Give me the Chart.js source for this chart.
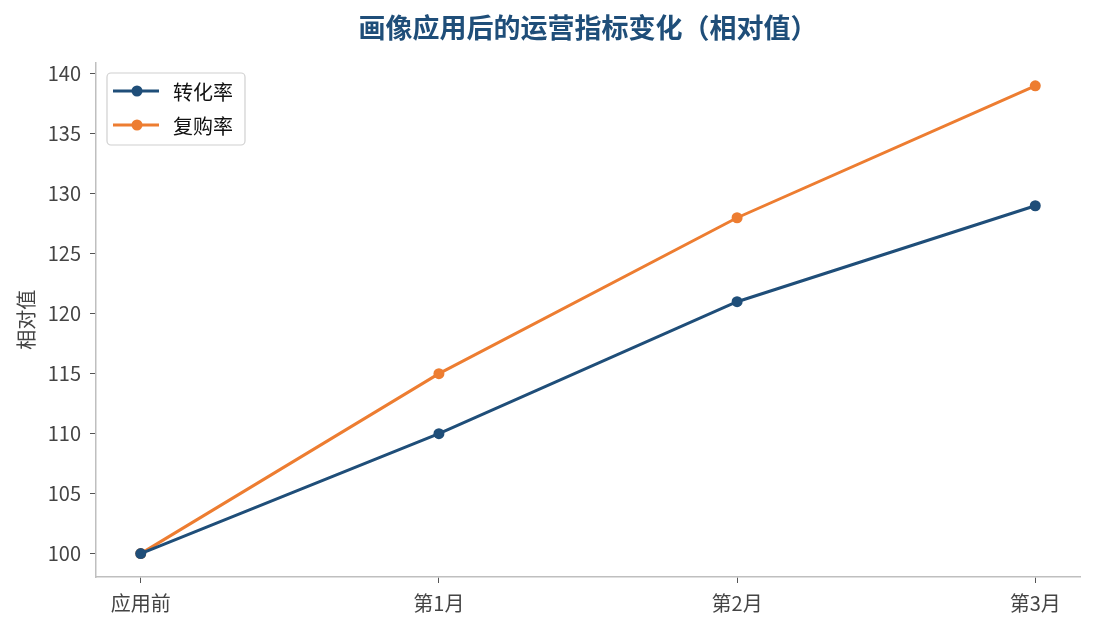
<!DOCTYPE html>
<html>
<head>
<meta charset="utf-8">
<script src="https://cdn.jsdelivr.net/npm/chart.js@4"></script>
<style>
  html, body { margin: 0; padding: 0; background: #fff; }
  #wrap { width: 1095px; height: 630px; }
</style>
</head>
<body>
<div id="wrap"><canvas id="chart" width="1095" height="630"></canvas></div>
<script>
const categories = ['应用前', '第1月', '第2月', '第3月'];
const conversion = [100, 110, 121, 129];
const repurchase = [100, 115, 128, 139];
const yTicks = [100, 105, 110, 115, 120, 125, 130, 135, 140];

const FONT = "'Noto Sans CJK SC', 'Noto Sans', sans-serif";
const BLUE = '#1f4e79';
const ORANGE = '#ed7d31';

const toPoints = arr => arr.map((v, i) => ({ x: i, y: v }));

// legend box drawn inside the plot area, top-left
const innerLegend = {
  id: 'innerLegend',
  afterDraw(chart) {
    const ctx = chart.ctx;
    const x0 = 107, y0 = 73, w = 138, h = 72;
    ctx.save();
    ctx.fillStyle = 'rgba(255,255,255,0.85)';
    ctx.strokeStyle = '#d0d0d0';
    ctx.lineWidth = 1.2;
    ctx.beginPath();
    ctx.roundRect(x0, y0, w, h, 4);
    ctx.fill();
    ctx.stroke();
    chart.data.datasets.forEach((ds, i) => {
      const cy = y0 + 18 + i * 34;
      ctx.strokeStyle = ds.borderColor;
      ctx.lineWidth = 3;
      ctx.beginPath();
      ctx.moveTo(113, cy);
      ctx.lineTo(159, cy);
      ctx.stroke();
      ctx.fillStyle = ds.borderColor;
      ctx.beginPath();
      ctx.arc(137, cy, 5.5, 0, Math.PI * 2);
      ctx.fill();
      ctx.fillStyle = '#111';
      ctx.font = '20px ' + FONT;
      ctx.textBaseline = 'middle';
      ctx.fillText(ds.label, 173, cy + 1);
    });
    ctx.restore();
  }
};

const ctx = document.getElementById('chart').getContext('2d');
new Chart(ctx, {
  type: 'line',
  data: {
    datasets: [
      {
        label: '转化率',
        data: toPoints(conversion),
        borderColor: BLUE,
        backgroundColor: BLUE,
        borderWidth: 3,
        pointRadius: 5.5,
        pointHoverRadius: 5.5,
        pointBorderWidth: 0,
        fill: false,
        tension: 0
      },
      {
        label: '复购率',
        data: toPoints(repurchase),
        borderColor: ORANGE,
        backgroundColor: ORANGE,
        borderWidth: 3,
        pointRadius: 5.5,
        pointHoverRadius: 5.5,
        pointBorderWidth: 0,
        fill: false,
        tension: 0
      }
    ]
  },
  options: {
    responsive: false,
    animation: false,
    layout: { padding: { left: 0, right: 15, top: 0, bottom: 0 } },
    plugins: {
      legend: { display: false },
      tooltip: { enabled: false },
      title: {
        display: true,
        fullSize: false, // centre over the plot area
        text: '画像应用后的运营指标变化（相对值）',
        color: BLUE,
        font: { family: FONT, size: 27, weight: 'bold' },
        padding: { top: 12, bottom: 18 }
      }
    },
    scales: {
      x: {
        type: 'linear',
        min: -0.15,
        max: 3.15,
        afterBuildTicks: s => { s.ticks = categories.map((c, i) => ({ value: i })); },
        afterFit: s => { s.height = 53; },
        border: { display: true, color: '#bfbfbf', width: 1.5 },
        grid: { drawOnChartArea: false, drawTicks: true, tickLength: 6, color: '#555' },
        ticks: {
          color: '#444',
          font: { family: FONT, size: 20 },
          padding: 8,
          maxRotation: 0,
          callback: v => categories[v]
        }
      },
      y: {
        type: 'linear',
        min: 98.05,
        max: 140.95,
        afterBuildTicks: s => { s.ticks = yTicks.map(v => ({ value: v })); },
        afterFit: s => { s.width = 96; },
        border: { display: true, color: '#bfbfbf', width: 1.5 },
        grid: { drawOnChartArea: false, drawTicks: true, tickLength: 6, color: '#555' },
        title: {
          display: true,
          text: '相对值',
          color: '#444',
          font: { family: FONT, size: 20 },
          padding: { top: 14, bottom: 0 }
        },
        ticks: {
          color: '#444',
          font: { family: FONT, size: 20 },
          padding: 9
        }
      }
    }
  },
  plugins: [innerLegend]
});
</script>
</body>
</html>
